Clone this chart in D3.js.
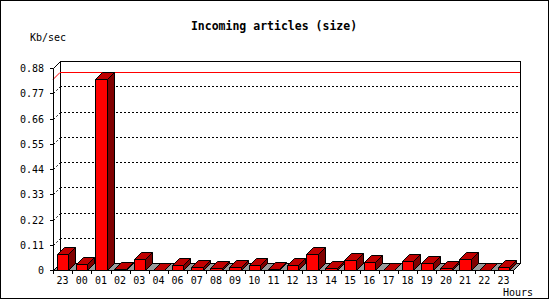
<!DOCTYPE html>
<html>
<head>
<meta charset="utf-8">
<script src="https://cdn.jsdelivr.net/npm/d3@7"></script>
<style>
  body { margin: 0; background: #fff; }
  text { font-family: "DejaVu Sans Mono", monospace; fill: #000; }
</style>
</head>
<body>
<svg id="chart" width="550" height="300"></svg>
<script>
// data
const hours = ['23','00','01','02','03','04','06','07','08','09','10','11',
               '12','13','14','15','16','17','18','19','20','21','22','23'];
const kbPerSec = [0.069, 0.025, 0.832, 0.003, 0.048, 0.002, 0.020, 0.015, 0.008, 0.012, 0.023, 0.004,
                  0.020, 0.068, 0.007, 0.042, 0.033, 0.002, 0.038, 0.029, 0.007, 0.048, 0.002, 0.014];
const yTicks = [0, 0.11, 0.22, 0.33, 0.44, 0.55, 0.66, 0.77, 0.88];

const svg = d3.select('#chart');
const dx = 7, dy = 7;          // 3d depth offset
const plotL = 53, plotR = 513, plotB = 270, plotT = 68;

const x = d3.scaleBand().domain(d3.range(hours.length)).range([plotL, plotR])
  .paddingInner(0.4).paddingOuter(0.2);
const step = x.step();
const y = d3.scaleLinear().domain([0, 0.88]).range([plotB, plotT]);

// outer border
svg.append('rect').attr('x', 0.5).attr('y', 0.5).attr('width', 548).attr('height', 298)
  .attr('fill', '#fff').attr('stroke', '#000');

// title + axis names
svg.append('text').attr('x', 274).attr('y', 30).attr('text-anchor', 'middle')
  .style('font-size', '11.5px').style('font-weight', 'bold').text('Incoming articles (size)');
svg.append('text').attr('x', 30).attr('y', 41).style('font-size', '10px').text('Kb/sec');
svg.append('text').attr('x', 533).attr('y', 296).attr('text-anchor', 'end')
  .style('font-size', '10px').text('Hours');

// back wall
svg.append('rect').attr('x', plotL + dx + 0.5).attr('y', Math.round(y(0.88)) - dy + 0.5)
  .attr('width', plotR - plotL).attr('height', Math.round(y(0)) - Math.round(y(0.88)))
  .attr('fill', '#fff').attr('stroke', '#000');

// grid lines on the wall + dotted diagonals
const grid = svg.append('g').attr('stroke', '#000').attr('stroke-dasharray', '2,2');
yTicks.filter(t => t > 0 && t < 0.88).forEach(t => {
  const yy = Math.round(y(t)) + 0.5;
  grid.append('line').attr('x1', plotL + dx).attr('x2', plotR + dx)
    .attr('y1', yy - dy).attr('y2', yy - dy);
});
yTicks.filter(t => t > 0).forEach(t => {
  const yy = Math.round(y(t)) + 0.5;
  grid.append('line').attr('x1', plotL + 0.5).attr('x2', plotL + dx + 0.5)
    .attr('y1', yy).attr('y2', yy - dy);
});

// floor
const floor = [[plotL, plotB], [plotR, plotB], [plotR + dx, plotB - dy], [plotL + dx, plotB - dy]];
svg.append('path').attr('d', d3.line()(floor) + 'Z')
  .attr('fill', '#999').attr('stroke', '#000').attr('transform', 'translate(0.5,0.5)');

// max line
const maxV = d3.max(kbPerSec);
const ym = Math.round(y(maxV)) + 0.5;
svg.append('path')
  .attr('d', d3.line()([[plotL, ym], [plotL + dx, ym - dy], [plotR + dx, ym - dy]]))
  .attr('fill', 'none').attr('stroke', '#f00');

// bars
const bars = svg.append('g').attr('transform', 'translate(0.5,0.5)')
  .attr('stroke', '#000').attr('stroke-linejoin', 'round');
kbPerSec.forEach((v, i) => {
  const x0 = Math.round(x(i)), x1 = Math.round(x(i) + x.bandwidth());
  const y0 = Math.round(y(0)), y1 = Math.round(y(v));
  const g = bars.append('g');
  g.append('path').attr('fill', '#800000')
    .attr('d', d3.line()([[x1, y1], [x1 + dx, y1 - dy], [x1 + dx, y0 - dy], [x1, y0]]) + 'Z');
  g.append('path').attr('fill', '#c00000')
    .attr('d', d3.line()([[x0, y1], [x0 + dx, y1 - dy], [x1 + dx, y1 - dy], [x1, y1]]) + 'Z');
  g.append('rect').attr('fill', '#f00')
    .attr('x', x0).attr('y', y1).attr('width', x1 - x0).attr('height', y0 - y1);
});

// front y axis
const ax = svg.append('g').attr('stroke', '#000');
ax.append('path').attr('fill', 'none')
  .attr('d', d3.line()([[plotL + 0.5, plotB + 0.5], [plotL + 0.5, Math.round(y(0.88)) + 0.5],
    [plotL + dx + 0.5, Math.round(y(0.88)) - dy + 0.5]]));
yTicks.forEach(t => {
  const yy = Math.round(y(t)) + 0.5;
  ax.append('line').attr('x1', plotL - 3).attr('x2', plotL).attr('y1', yy).attr('y2', yy);
  svg.append('text').attr('x', 44).attr('y', yy).attr('dy', '0.35em').attr('text-anchor', 'end')
    .style('font-size', '10px').text(t === 0 ? '0' : d3.format('.2f')(t));
});

// x ticks and labels
d3.range(hours.length + 1).forEach(i => {
  const xx = Math.round(plotL + i * step) + 0.5;
  ax.append('line').attr('x1', xx).attr('x2', xx).attr('y1', plotB).attr('y2', plotB + 4);
});
hours.forEach((h, i) => {
  svg.append('text').attr('x', x(i) + x.bandwidth() / 2).attr('y', 284)
    .attr('text-anchor', 'middle').style('font-size', '10px').text(h);
});
</script>
</body>
</html>
